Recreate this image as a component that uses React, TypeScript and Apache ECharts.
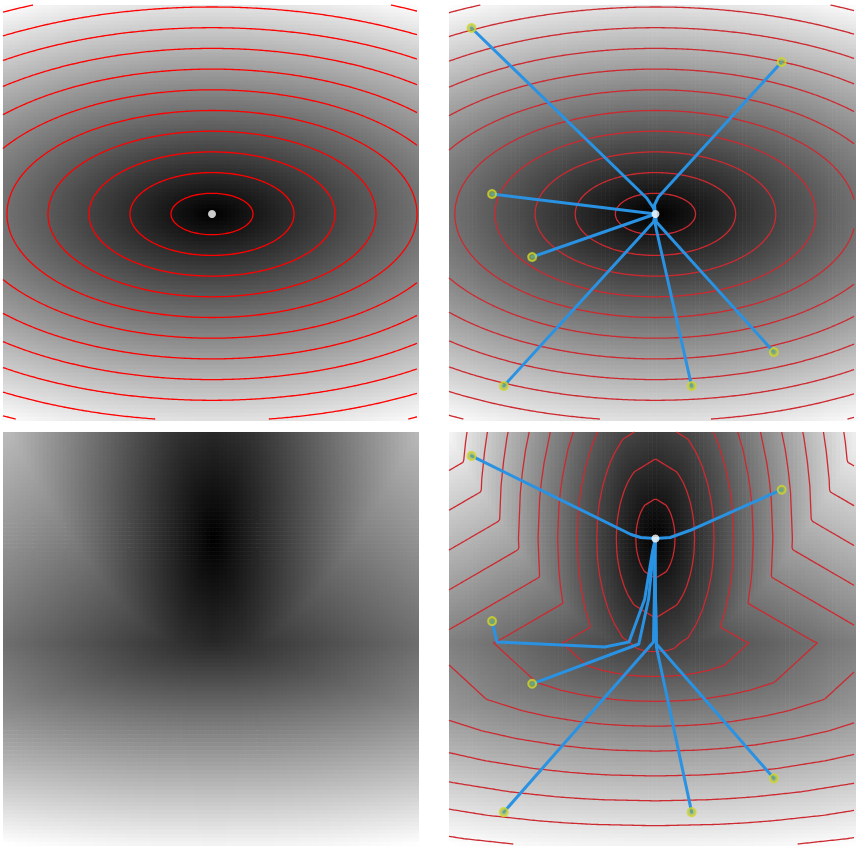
import React, { useEffect, useRef } from "react";
import * as echarts from "echarts";

// ---------- data (panel-local pixel units) ----------
const PANEL = 416; // panel side, px
const CELLS = 104; // heatmap cells per side
const NODES = 208; // field sampling nodes per side
const STEP = 2; // px between nodes

// Panels 1-2: constant anisotropic metric (px per contour level along x, y)
const SOURCE_P1 = [209, 209];
const SOURCE_P2 = [211, 209];
const METRIC_CONST = [41, 20.7];

// Panel 4: two-region metric (px per contour level along x, y)
const SOURCE_P34 = [211, 107];
const METRIC_UPPER = [20, 40];
const METRIC_LOWER = [70, 25];
const INTERFACE_Y = [211];

// Panel 3: two-region metric as read from its grey levels (px per unit of the grey range)
const METRIC_UPPER_P3 = [293, 700];
const METRIC_LOWER_P3 = [754, 258];

// geodesic paths in panel 2 (end point first, source last)
const PATHS_P2: number[][][] = [
  [[23, 23], [202, 193], [209, 203], [211, 209]],
  [[340, 57], [214, 192], [210, 200], [211, 209]],
  [[44, 189], [211, 209]],
  [[85, 252], [211, 209]],
  [[56, 381], [209, 217], [211, 209]],
  [[248, 381], [212, 225], [210, 215], [211, 209]],
  [[332, 347], [212, 217], [211, 209]],
];

// geodesic paths in panel 4
const PATHS_P4: number[][][] = [
  [[23, 24], [186, 103], [196, 106], [211, 107]],
  [[340, 58], [246, 99], [226, 106], [211, 107]],
  [[44, 190], [49, 211], [159, 216], [184, 211], [200, 168], [208, 120], [211, 107]],
  [[85, 253], [194, 213], [204, 168], [209, 118], [211, 107]],
  [[56, 382], [209, 211], [211, 113], [211, 107]],
  [[248, 382], [212, 216], [210, 113], [211, 107]],
  [[332, 348], [212, 213], [210, 113], [211, 107]],
];

// ---------- layout ----------
const LAYOUT = [
  { left: 3, top: 5 },
  { left: 449, top: 5 },
  { left: 3, top: 432 },
  { left: 449, top: 432 },
];

// ---------- field computation ----------
function constField(src: number[], m: number[]): Float64Array {
  const f = new Float64Array(NODES * NODES);
  for (let j = 0; j < NODES; j++)
    for (let i = 0; i < NODES; i++) {
      const dx = (i * STEP - src[0]) / m[0];
      const dy = (j * STEP - src[1]) / m[1];
      f[j * NODES + i] = Math.sqrt(dx * dx + dy * dy);
    }
  return f;
}

function gcd(a: number, b: number): number {
  return b === 0 ? a : gcd(b, a % b);
}

function twoRegionField(src: number[], up: number[], lo: number[], yIf: number): Float64Array {
  const n = NODES;
  const dist = new Float64Array(n * n).fill(Infinity);
  const F = (x: number, y: number, dx: number, dy: number) => {
    const m = y < yIf ? up : lo;
    const a = dx / m[0];
    const b = dy / m[1];
    return Math.sqrt(a * a + b * b);
  };
  const offs: number[][] = [];
  for (let a = -3; a <= 3; a++)
    for (let b = -3; b <= 3; b++) {
      if (a === 0 && b === 0) continue;
      if (gcd(Math.abs(a), Math.abs(b)) === 1) offs.push([a, b]);
    }
  const hk: number[] = [];
  const hv: number[] = [];
  const push = (k: number, v: number) => {
    hk.push(k);
    hv.push(v);
    let c = hk.length - 1;
    while (c > 0) {
      const p = (c - 1) >> 1;
      if (hk[p] <= hk[c]) break;
      [hk[p], hk[c]] = [hk[c], hk[p]];
      [hv[p], hv[c]] = [hv[c], hv[p]];
      c = p;
    }
  };
  const pop = () => {
    const k = hk[0];
    const v = hv[0];
    const lk = hk.pop()!;
    const lv = hv.pop()!;
    if (hk.length > 0) {
      hk[0] = lk;
      hv[0] = lv;
      let c = 0;
      const L = hk.length;
      for (;;) {
        const l = 2 * c + 1;
        const r = l + 1;
        let s = c;
        if (l < L && hk[l] < hk[s]) s = l;
        if (r < L && hk[r] < hk[s]) s = r;
        if (s === c) break;
        [hk[s], hk[c]] = [hk[c], hk[s]];
        [hv[s], hv[c]] = [hv[c], hv[s]];
        c = s;
      }
    }
    return [k, v];
  };
  for (let j = 0; j < n; j++)
    for (let i = 0; i < n; i++) {
      const x = i * STEP;
      const y = j * STEP;
      if (Math.hypot(x - src[0], y - src[1]) <= 4) {
        const d = F(src[0], src[1], x - src[0], y - src[1]);
        dist[j * n + i] = d;
        push(d, j * n + i);
      }
    }
  while (hk.length) {
    const [d, idx] = pop();
    if (d > dist[idx]) continue;
    const i = idx % n;
    const j = (idx - i) / n;
    const x = i * STEP;
    const y = j * STEP;
    for (const o of offs) {
      const ni = i + o[0];
      const nj = j + o[1];
      if (ni < 0 || nj < 0 || ni >= n || nj >= n) continue;
      const dx = o[0] * STEP;
      const dy = o[1] * STEP;
      const c = (F(x, y, dx, dy) + 2 * F(x + dx / 2, y + dy / 2, dx, dy) + F(x + dx, y + dy, dx, dy)) / 4;
      const nd = d + c;
      const nidx = nj * n + ni;
      if (nd < dist[nidx]) {
        dist[nidx] = nd;
        push(nd, nidx);
      }
    }
  }
  return dist;
}

function fieldMax(f: Float64Array) {
  let m = 0;
  for (let k = 0; k < f.length; k++) if (f[k] > m && isFinite(f[k])) m = f[k];
  return m;
}

function heatData(f: Float64Array) {
  const mx = fieldMax(f);
  const out: number[][] = [];
  for (let cj = 0; cj < CELLS; cj++)
    for (let ci = 0; ci < CELLS; ci++) {
      const v = f[(2 * cj + 1) * NODES + (2 * ci + 1)] / mx;
      out.push([ci, cj, Math.min(1, v)]);
    }
  return out;
}

function contourLines(f: Float64Array): number[][][] {
  const n = NODES;
  const mx = fieldMax(f);
  const result: number[][][] = [];
  for (let L = 1; L < mx; L += 1) {
    const pts = new Map<number, number[]>();
    const adj = new Map<number, number[]>();
    const edgePoint = (key: number, ia: number, ja: number, ib: number, jb: number) => {
      if (!pts.has(key)) {
        const va = f[ja * n + ia];
        const vb = f[jb * n + ib];
        const t = (L - va) / (vb - va);
        pts.set(key, [(ia + (ib - ia) * t) * STEP, (ja + (jb - ja) * t) * STEP]);
      }
    };
    const link = (a: number, b: number) => {
      if (!adj.has(a)) adj.set(a, []);
      if (!adj.has(b)) adj.set(b, []);
      adj.get(a)!.push(b);
      adj.get(b)!.push(a);
    };
    for (let j = 0; j < n - 1; j++)
      for (let i = 0; i < n - 1; i++) {
        const v00 = f[j * n + i] >= L;
        const v10 = f[j * n + i + 1] >= L;
        const v11 = f[(j + 1) * n + i + 1] >= L;
        const v01 = f[(j + 1) * n + i] >= L;
        const cross: number[] = [];
        const e0 = 2 * (j * n + i);
        const e1 = 2 * (j * n + i + 1) + 1;
        const e2 = 2 * ((j + 1) * n + i);
        const e3 = 2 * (j * n + i) + 1;
        if (v00 !== v10) {
          edgePoint(e0, i, j, i + 1, j);
          cross.push(e0);
        }
        if (v10 !== v11) {
          edgePoint(e1, i + 1, j, i + 1, j + 1);
          cross.push(e1);
        }
        if (v01 !== v11) {
          edgePoint(e2, i, j + 1, i + 1, j + 1);
          cross.push(e2);
        }
        if (v00 !== v01) {
          edgePoint(e3, i, j, i, j + 1);
          cross.push(e3);
        }
        if (cross.length === 2) link(cross[0], cross[1]);
        else if (cross.length === 4) {
          link(e0, e1);
          link(e2, e3);
        }
      }
    const visited = new Set<number>();
    const walk = (start: number) => {
      const line = [pts.get(start)!];
      visited.add(start);
      let cur = start;
      for (;;) {
        const nb = adj.get(cur)!;
        const next = nb.find((k) => !visited.has(k));
        if (next === undefined) {
          if (nb.includes(start) && line.length > 2) line.push(pts.get(start)!);
          break;
        }
        visited.add(next);
        line.push(pts.get(next)!);
        cur = next;
      }
      if (line.length > 1) result.push(line);
    };
    adj.forEach((nb, k) => {
      if (nb.length === 1 && !visited.has(k)) walk(k);
    });
    adj.forEach((_nb, k) => {
      if (!visited.has(k)) walk(k);
    });
  }
  return result;
}

// cell renderer: slightly enlarged rects so that neighbouring cells leave no seams
function renderCell(_params: any, api: any) {
  const p = api.coord([api.value(0), api.value(1)]);
  const s = api.size([1, 1]);
  return {
    type: "rect",
    shape: { x: p[0] - s[0] / 2 - 0.3, y: p[1] - s[1] / 2 - 0.3, width: s[0] + 0.6, height: s[1] + 0.6 },
    style: { fill: api.visual("color") },
  };
}

// ---------- option ----------
function buildOption() {
  const f1 = constField(SOURCE_P1, METRIC_CONST);
  const f2 = constField(SOURCE_P2, METRIC_CONST);
  const f3 = twoRegionField(SOURCE_P34, METRIC_UPPER_P3, METRIC_LOWER_P3, INTERFACE_Y[0]);
  const f4 = twoRegionField(SOURCE_P34, METRIC_UPPER, METRIC_LOWER, INTERFACE_Y[0]);
  const fields = [f1, f2, f3, f4];
  const cats = Array.from({ length: CELLS }, (_, k) => String(k));

  const grid: any[] = [];
  const xAxis: any[] = [];
  const yAxis: any[] = [];
  for (let k = 0; k < 4; k++)
    grid.push({ left: LAYOUT[k].left, top: LAYOUT[k].top, width: PANEL, height: PANEL, containLabel: false });
  for (let k = 0; k < 4; k++)
    grid.push({ left: LAYOUT[k].left, top: LAYOUT[k].top, width: PANEL, height: PANEL, containLabel: false });
  for (let k = 0; k < 4; k++) {
    xAxis.push({ type: "category", gridIndex: k, data: cats, show: false, boundaryGap: true });
    yAxis.push({ type: "category", gridIndex: k, data: cats, show: false, boundaryGap: true, inverse: true });
  }
  for (let k = 0; k < 4; k++) {
    xAxis.push({ type: "value", gridIndex: 4 + k, min: 0, max: PANEL, show: false, splitLine: { show: false } });
    yAxis.push({ type: "value", gridIndex: 4 + k, min: 0, max: PANEL, inverse: true, show: false, splitLine: { show: false } });
  }

  const series: any[] = [];
  for (let k = 0; k < 4; k++) {
    series.push({
      type: "custom",
      xAxisIndex: k,
      yAxisIndex: k,
      data: heatData(fields[k]),
      renderItem: renderCell,
      encode: { x: 0, y: 1 },
      silent: true,
      clip: true,
      progressive: 0,
      z: 1,
    });
  }
  const contourStyle = [
    { color: "#ff0000", width: 1.3 },
    { color: "#cc2a30", width: 1.3 },
    null,
    { color: "#cc2a30", width: 1.3 },
  ];
  for (let k = 0; k < 4; k++) {
    const st = contourStyle[k];
    if (!st) continue;
    series.push({
      type: "lines",
      coordinateSystem: "cartesian2d",
      xAxisIndex: 4 + k,
      yAxisIndex: 4 + k,
      polyline: true,
      silent: true,
      data: contourLines(fields[k]).map((c) => ({ coords: c })),
      lineStyle: { color: st.color, width: st.width, opacity: 1 },
      z: 2,
    });
  }
  const pathSets: [number, number[][][]][] = [
    [1, PATHS_P2],
    [3, PATHS_P4],
  ];
  for (const [k, paths] of pathSets) {
    series.push({
      type: "lines",
      coordinateSystem: "cartesian2d",
      xAxisIndex: 4 + k,
      yAxisIndex: 4 + k,
      polyline: true,
      silent: true,
      data: paths.map((p) => ({ coords: p })),
      lineStyle: { color: "#2a92e2", width: 3, opacity: 1, cap: "round", join: "round" },
      z: 3,
    });
    series.push({
      type: "scatter",
      xAxisIndex: 4 + k,
      yAxisIndex: 4 + k,
      silent: true,
      data: paths.map((p) => p[0]),
      symbolSize: 8,
      itemStyle: { color: "rgba(150,180,70,0.7)", borderColor: "#cfd62c", borderWidth: 2 },
      z: 4,
    });
  }
  const sources: [number, number[]][] = [
    [0, SOURCE_P1],
    [1, SOURCE_P2],
    [3, SOURCE_P34],
  ];
  for (const [k, s] of sources) {
    series.push({
      type: "scatter",
      xAxisIndex: 4 + k,
      yAxisIndex: 4 + k,
      silent: true,
      data: [s],
      symbolSize: 8,
      itemStyle: { color: "#ffffff" },
      z: 5,
    });
  }

  return {
    animation: false,
    backgroundColor: "#ffffff",
    grid,
    xAxis,
    yAxis,
    visualMap: {
      type: "continuous",
      show: false,
      min: 0,
      max: 1,
      dimension: 2,
      seriesIndex: [0, 1, 2, 3],
      inRange: { color: ["#000000", "#ffffff"] },
    },
    series,
  };
}

export default function App() {
  const ref = useRef<HTMLDivElement>(null);
  useEffect(() => {
    const chart = echarts.init(ref.current!, null, { renderer: "svg" });
    chart.setOption(buildOption());
    return () => chart.dispose();
  }, []);
  return (
    <div
      ref={ref}
      style={{ position: "absolute", left: 0, top: 0, width: 856, height: 846, background: "#fff" }}
    />
  );
}
